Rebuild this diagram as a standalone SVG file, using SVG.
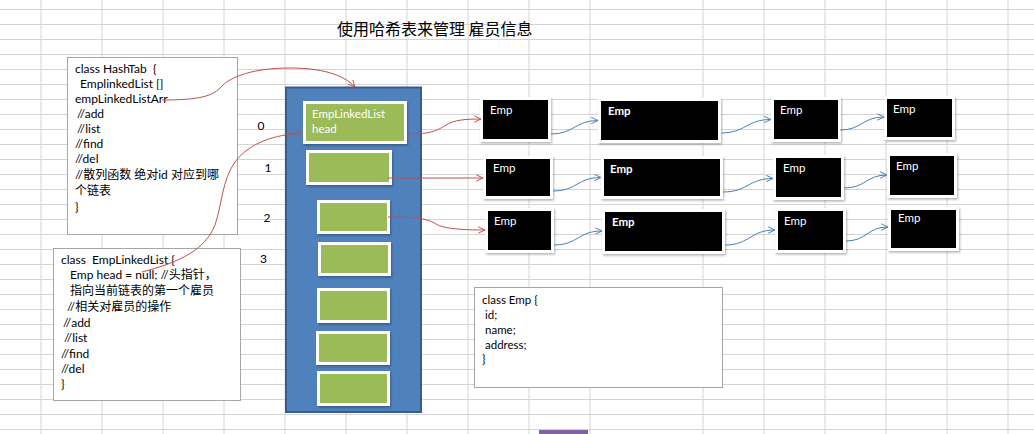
<svg xmlns="http://www.w3.org/2000/svg" width="1034" height="434" viewBox="0 0 1034 434">
<style>
.grid line{stroke:#d4d4d4;stroke-width:1}
.note{fill:#fff;stroke:#a6a6a6;stroke-width:1}
.t{font-family:Lato,"Noto Sans CJK SC",sans-serif;font-size:12px;fill:#000}
.tn{font-family:Lato,"Noto Sans CJK SC",sans-serif;font-size:11.5px;fill:#000}
.num{font-family:Lato,"Liberation Sans",sans-serif;font-size:12px;fill:#000;text-anchor:middle}
.title{font-family:"Noto Sans CJK SC",sans-serif;font-size:16px;fill:#000}
.green{fill:#9bbb59;stroke:#fff;stroke-width:3;filter:url(#sh)}
.emp{fill:#000;stroke:#fff;stroke-width:3;filter:url(#sh)}
.et{font-family:Lato,"Liberation Sans",sans-serif;font-size:11.5px;fill:#fff}
.eb{font-weight:bold}
.gt{font-family:Lato,"Liberation Sans",sans-serif;font-size:11.5px;fill:#fff}
.red{fill:none;stroke:#c0504d;stroke-width:1;marker-end:url(#ar)}
.blue{fill:none;stroke:#4a7ebb;stroke-width:1;marker-end:url(#ab)}
</style>
<defs>
<filter id="sh" x="-20%" y="-20%" width="140%" height="150%">
<feDropShadow dx="1" dy="1.5" stdDeviation="1.2" flood-color="#000" flood-opacity="0.3"/>
</filter>
<marker id="ar" viewBox="0 0 10 10" refX="9.5" refY="5" markerWidth="8" markerHeight="8" orient="auto" markerUnits="userSpaceOnUse">
<path d="M1,1 L9.5,5 L1,9" fill="none" stroke="#c0504d" stroke-width="1.2"/>
</marker>
<marker id="ab" viewBox="0 0 10 10" refX="9.5" refY="5" markerWidth="8" markerHeight="8" orient="auto" markerUnits="userSpaceOnUse">
<path d="M1,1 L9.5,5 L1,9" fill="none" stroke="#4a7ebb" stroke-width="1.2"/>
</marker>
</defs>
<rect width="1034" height="434" fill="#fff"/>
<g class="grid">
<line x1="41" y1="0" x2="41" y2="434"/><line x1="102" y1="0" x2="102" y2="434"/><line x1="163" y1="0" x2="163" y2="434"/><line x1="224" y1="0" x2="224" y2="434"/><line x1="285" y1="0" x2="285" y2="434"/><line x1="346" y1="0" x2="346" y2="434"/><line x1="407" y1="0" x2="407" y2="434"/><line x1="468" y1="0" x2="468" y2="434"/><line x1="529" y1="0" x2="529" y2="434"/><line x1="590" y1="0" x2="590" y2="434"/><line x1="703" y1="0" x2="703" y2="434"/><line x1="764" y1="0" x2="764" y2="434"/><line x1="825" y1="0" x2="825" y2="434"/><line x1="886" y1="0" x2="886" y2="434"/><line x1="947" y1="0" x2="947" y2="434"/><line x1="1008" y1="0" x2="1008" y2="434"/>
<line x1="0" y1="9.5" x2="1034" y2="9.5"/><line x1="0" y1="24.5" x2="1034" y2="24.5"/><line x1="0" y1="39.5" x2="1034" y2="39.5"/><line x1="0" y1="54.5" x2="1034" y2="54.5"/><line x1="0" y1="69.5" x2="1034" y2="69.5"/><line x1="0" y1="84.5" x2="1034" y2="84.5"/><line x1="0" y1="99.5" x2="1034" y2="99.5"/><line x1="0" y1="114.5" x2="1034" y2="114.5"/><line x1="0" y1="129.5" x2="1034" y2="129.5"/><line x1="0" y1="144.5" x2="1034" y2="144.5"/><line x1="0" y1="159.5" x2="1034" y2="159.5"/><line x1="0" y1="174.5" x2="1034" y2="174.5"/><line x1="0" y1="189.5" x2="1034" y2="189.5"/><line x1="0" y1="204.5" x2="1034" y2="204.5"/><line x1="0" y1="219.5" x2="1034" y2="219.5"/><line x1="0" y1="234.5" x2="1034" y2="234.5"/><line x1="0" y1="249.5" x2="1034" y2="249.5"/><line x1="0" y1="264.5" x2="1034" y2="264.5"/><line x1="0" y1="279.5" x2="1034" y2="279.5"/><line x1="0" y1="294.5" x2="1034" y2="294.5"/><line x1="0" y1="309.5" x2="1034" y2="309.5"/><line x1="0" y1="324.5" x2="1034" y2="324.5"/><line x1="0" y1="339.5" x2="1034" y2="339.5"/><line x1="0" y1="354.5" x2="1034" y2="354.5"/><line x1="0" y1="369.5" x2="1034" y2="369.5"/><line x1="0" y1="384.5" x2="1034" y2="384.5"/><line x1="0" y1="399.5" x2="1034" y2="399.5"/><line x1="0" y1="414.5" x2="1034" y2="414.5"/><line x1="0" y1="429.5" x2="1034" y2="429.5"/>
</g>
<rect x="539" y="430" width="49" height="4" fill="#8064a2"/>
<g id="title"><text class="title" x="337" y="35">使用哈希表来管理 雇员信息</text></g>
<g id="hashtab">
<rect class="note" x="67.5" y="57.5" width="170" height="177"/>
<text class="t" xml:space="preserve"><tspan x="75" y="73">class HashTab  {</tspan><tspan x="80" y="88">EmplinkedList []</tspan><tspan x="75" y="103">empLinkedListArr</tspan><tspan x="77" y="118">//add</tspan><tspan x="77" y="133">//list</tspan><tspan x="75" y="148">//find</tspan><tspan x="75" y="163">//del</tspan><tspan x="75" y="179">//散列函数 绝对id 对应到哪</tspan><tspan x="75" y="195">个链表</tspan><tspan x="75" y="211">}</tspan></text>
</g>
<g id="emplinkedlist">
<rect class="note" x="53.5" y="248.5" width="187" height="152"/>
<text class="t" xml:space="preserve"><tspan x="61" y="264">class  EmpLinkedList {</tspan><tspan x="70" y="279">Emp head = null; //头指针，</tspan><tspan x="70" y="295">指向当前链表的第一个雇员</tspan><tspan x="67" y="311">//相关对雇员的操作</tspan><tspan x="63" y="327">//add</tspan><tspan x="64" y="342">//list</tspan><tspan x="61" y="358">//find</tspan><tspan x="61" y="373">//del</tspan><tspan x="61" y="388">}</tspan></text>
</g>
<g id="indexes">
<text class="num" x="261" y="130">0</text>
<text class="num" x="268" y="172">1</text>
<text class="num" x="267" y="222">2</text>
<text class="num" x="263.5" y="263">3</text>
</g>
<g id="array">
<rect x="286" y="87.5" width="135" height="324.5" fill="#4f81bd" stroke="#385d8a" stroke-width="2"/>
</g>
<g id="slot0"><rect class="green" x="304.5" y="102.5" width="101" height="40"/><text class="gt" x="312" y="118">EmpLinkedList</text><text class="gt" x="312" y="133">head</text></g>
<g id="slot1"><rect class="green" x="307.5" y="151.5" width="83" height="32"/></g>
<g id="slot2"><rect class="green" x="318.5" y="201.5" width="70" height="31"/></g>
<g id="slot3"><rect class="green" x="319.5" y="243.5" width="70" height="31"/></g>
<g id="slot4"><rect class="green" x="318.5" y="289.5" width="70" height="32"/></g>
<g id="slot5"><rect class="green" x="317.5" y="332.5" width="71" height="31"/></g>
<g id="slot6"><rect class="green" x="318.5" y="372.5" width="70" height="32"/></g>
<g id="emp-r1-1"><rect class="emp" x="481.5" y="98.5" width="68" height="42"/><text class="et" x="490" y="114">Emp</text></g>
<g id="emp-r1-2"><rect class="emp" x="599.5" y="99.5" width="120" height="42"/><text class="et eb" x="608" y="115">Emp</text></g>
<g id="emp-r1-3"><rect class="emp" x="772.5" y="98.5" width="67" height="42"/><text class="et" x="780" y="114">Emp</text></g>
<g id="emp-r1-4"><rect class="emp" x="885.5" y="97.5" width="68" height="41"/><text class="et" x="893" y="113">Emp</text></g>
<g id="emp-r2-1"><rect class="emp" x="484.5" y="157.5" width="67" height="40"/><text class="et" x="493" y="172">Emp</text></g>
<g id="emp-r2-2"><rect class="emp" x="602.5" y="157.5" width="119" height="40"/><text class="et eb" x="610" y="173">Emp</text></g>
<g id="emp-r2-3"><rect class="emp" x="774.5" y="156.5" width="68" height="42"/><text class="et" x="783" y="172">Emp</text></g>
<g id="emp-r2-4"><rect class="emp" x="888.5" y="154.5" width="67" height="42"/><text class="et" x="896" y="170">Emp</text></g>
<g id="emp-r3-1"><rect class="emp" x="486.5" y="209.5" width="66" height="42"/><text class="et" x="494" y="225">Emp</text></g>
<g id="emp-r3-2"><rect class="emp" x="603.5" y="210.5" width="120" height="42"/><text class="et eb" x="612" y="226">Emp</text></g>
<g id="emp-r3-3"><rect class="emp" x="776.5" y="209.5" width="68" height="42"/><text class="et" x="784" y="225">Emp</text></g>
<g id="emp-r3-4"><rect class="emp" x="889.5" y="208.5" width="68" height="41"/><text class="et" x="898" y="222">Emp</text></g>
<g id="emp-class">
<rect class="note" x="474.5" y="287.5" width="248" height="100"/>
<text class="tn" xml:space="preserve"><tspan x="482" y="304">class Emp {</tspan><tspan x="485" y="318.5">id;</tspan><tspan x="485" y="333.5">name;</tspan><tspan x="485" y="348.5">address;</tspan><tspan x="482" y="363">}</tspan></text>
</g>
<g id="connectors">
<path class="red" d="M162,100 C200,100 212,96 220,88 C230,76 255,68 290,68 C320,68 343,74 355,87"/>
<path class="red" d="M142,272 C180,262 205,250 215,225 C222,205 222,180 235,162 C250,142 275,135 302,133"/>
<path class="red" d="M410,134 C432,134 438,130 446,125 C454,120 465,119 481,119"/>
<path class="red" d="M388,178 L483,178"/>
<path class="red" d="M388,217 C418,217 428,219 436,224 C444,229 465,230 485,230"/>
<path class="blue" d="M551,134 C574,134 575,120.5 598,120.5"/>
<path class="blue" d="M721,133 C746,133 746,119.5 771,119.5"/>
<path class="blue" d="M840,130 C862,130 862,117 884,117"/>
<path class="blue" d="M553,191 C577,191 577,177.5 601,177.5"/>
<path class="blue" d="M723,192 C748,192 748,178.5 773,178.5"/>
<path class="blue" d="M844,188 C866,188 866,175 887,175"/>
<path class="blue" d="M554,245 C578,245 578,231 602,231"/>
<path class="blue" d="M725,245 C750,245 750,230 775,230"/>
<path class="blue" d="M846,241 C867,241 867,227 888,227"/>
</g>
</svg>
